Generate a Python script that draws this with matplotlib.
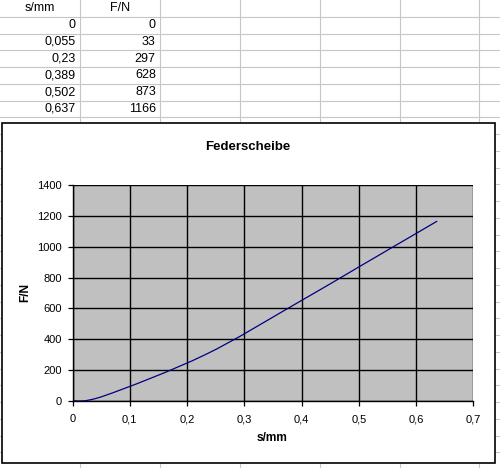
import matplotlib
matplotlib.use("Agg")
import matplotlib.pyplot as plt
from matplotlib.patches import Rectangle, PathPatch
from matplotlib.path import Path
from matplotlib.ticker import FuncFormatter, MultipleLocator

# data from the sheet
s_mm = [0, 0.055, 0.23, 0.389, 0.502, 0.637]
f_n = [0, 33, 297, 628, 873, 1166]
col_headers = ["s/mm", "F/N"]
title = "Federscheibe"

W, H = 500, 468
plt.rcParams['font.family'] = ['Liberation Sans', 'DejaVu Sans']


def comma(v, pos=None):
    return f"{v:g}".replace('.', ',')


def smooth_path(xs, ys):
    # excel style smoothed line: bezier segments through every data point
    pts = list(zip(xs, ys))
    verts = [pts[0]]
    codes = [Path.MOVETO]
    n = len(pts)
    for i in range(n - 1):
        p0 = pts[max(i - 1, 0)]
        p1 = pts[i]
        p2 = pts[i + 1]
        p3 = pts[min(i + 2, n - 1)]
        c1 = (p1[0] + (p2[0] - p0[0]) / 6, p1[1] + (p2[1] - p0[1]) / 6)
        c2 = (p2[0] - (p3[0] - p1[0]) / 6, p2[1] - (p3[1] - p1[1]) / 6)
        verts += [c1, c2, p2]
        codes += [Path.CURVE4] * 3
    return Path(verts, codes)


def px(x, y):
    # pixel position (from top left) to figure fraction
    return x / W, 1 - y / H


fig = plt.figure(figsize=(W / 100, H / 100), dpi=100)
fig.patch.set_facecolor("white")

# spreadsheet grid behind the chart
grid_col = "#c6c6c6"
col_w = 79.9
row_h = 16.75
for k in range(1, 7):
    x = k * col_w
    fig.add_artist(plt.Line2D([x / W, x / W], [0, 1], color=grid_col, lw=0.8, zorder=0))
for k in range(1, 28):
    y = k * row_h
    fig.add_artist(plt.Line2D([0, 1], [1 - y / H, 1 - y / H], color=grid_col, lw=0.8, zorder=0))

# sheet contents
for j, head in enumerate(col_headers):
    fig.text(*px(j * col_w + col_w / 2, row_h / 2), head, ha="center", va="center", fontsize=9)
for i, (s, f) in enumerate(zip(s_mm, f_n)):
    yc = (i + 1) * row_h + row_h / 2
    fig.text(*px(col_w - 4, yc), comma(s), ha="right", va="center", fontsize=9)
    fig.text(*px(2 * col_w - 4, yc), comma(f), ha="right", va="center", fontsize=9)

# chart area
x0, y0, x1, y1 = 2, 123, 495, 463
fig.add_artist(Rectangle((x0 / W, 1 - y1 / H), (x1 - x0) / W, (y1 - y0) / H,
                         transform=fig.transFigure, facecolor="white",
                         edgecolor="#000000", lw=1.2, zorder=1))

# plot area
left, top, right, bottom = 72.5, 185, 473.3, 401
ax = fig.add_axes([left / W, 1 - bottom / H, (right - left) / W, (bottom - top) / H], zorder=2)
ax.set_facecolor("#c0c0c0")
ax.set_xlim(0, 0.7)
ax.set_ylim(0, 1400)
ax.xaxis.set_major_locator(MultipleLocator(0.1))
ax.yaxis.set_major_locator(MultipleLocator(200))
ax.xaxis.set_major_formatter(FuncFormatter(comma))
ax.yaxis.set_major_formatter(FuncFormatter(comma))
ax.grid(True, color="black", lw=1.0)
ax.set_axisbelow(True)
ax.xaxis.get_gridlines()[-1].set_visible(False)
ax.yaxis.get_gridlines()[-1].set_visible(False)
ax.tick_params(direction="out", length=3.5, width=0.9, labelsize=8, pad=4, colors="black")
ax.tick_params(axis="x", pad=6)
for side in ["top", "right"]:
    ax.spines[side].set_visible(False)
for side in ["left", "bottom"]:
    ax.spines[side].set_color("black")
    ax.spines[side].set_linewidth(1.0)

ax.add_patch(PathPatch(smooth_path(s_mm, f_n), facecolor="none",
                       edgecolor="#000080", lw=0.9, zorder=3))

fig.text(*px(248, 147), title, ha="center", va="center", fontsize=9.5, fontweight="bold")
fig.text(*px(272, 438), "s/mm", ha="center", va="center", fontsize=8.6, fontweight="bold")
fig.text(*px(25, 292), "F/N", ha="center", va="center", fontsize=8.6,
         fontweight="bold", rotation=90)

fig.savefig("out.png", dpi=100, facecolor="white")
